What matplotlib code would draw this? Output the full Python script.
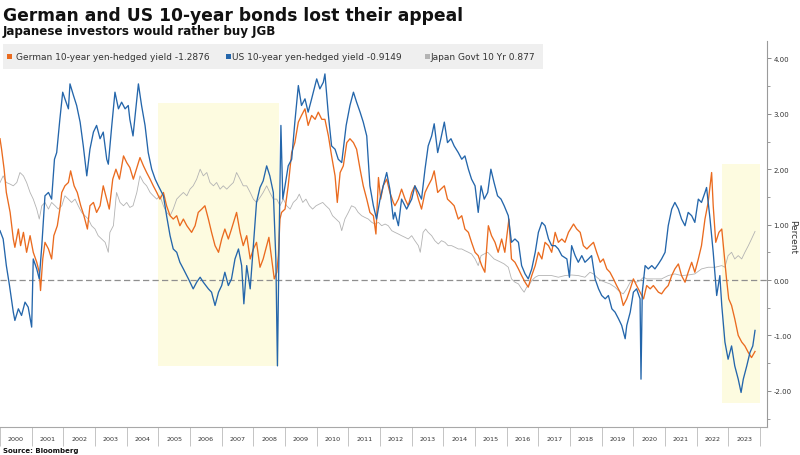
import matplotlib
matplotlib.use("Agg")
import matplotlib.pyplot as plt
from matplotlib.patches import Rectangle
from matplotlib.ticker import FixedLocator, NullFormatter, FixedFormatter

# ---------------- data ----------------
us_dates = [2000.0, 2000.1, 2000.2, 2000.3, 2000.42, 2000.47, 2000.58, 2000.68, 2000.79, 2000.89,
            2001.0, 2001.05, 2001.16, 2001.24, 2001.32, 2001.42, 2001.53, 2001.63, 2001.72, 2001.79,
            2001.89, 2001.98, 2002.05, 2002.16, 2002.21, 2002.32, 2002.42, 2002.53, 2002.63, 2002.74,
            2002.84, 2002.95, 2003.05, 2003.16, 2003.26, 2003.37, 2003.42, 2003.53, 2003.63, 2003.74,
            2003.84, 2003.95, 2004.05, 2004.1, 2004.2, 2004.37, 2004.47, 2004.58, 2004.68, 2004.79,
            2004.9, 2005.0, 2005.16, 2005.26, 2005.37, 2005.47, 2005.58, 2005.68, 2005.79, 2005.95,
            2006.1, 2006.21, 2006.32, 2006.42, 2006.58, 2006.68, 2006.79, 2006.9, 2007.0, 2007.1,
            2007.21, 2007.31, 2007.42, 2007.53, 2007.63, 2007.7, 2007.79, 2007.9, 2008.0, 2008.1,
            2008.21, 2008.31, 2008.42, 2008.52, 2008.63, 2008.71, 2008.76, 2008.82, 2008.87, 2008.93,
            2009.0, 2009.1, 2009.21, 2009.31, 2009.42, 2009.52, 2009.63, 2009.73, 2009.84, 2010.0,
            2010.1, 2010.21, 2010.26, 2010.37, 2010.47, 2010.58, 2010.68, 2010.79, 2010.93, 2011.05,
            2011.16, 2011.26, 2011.37, 2011.47, 2011.58, 2011.68, 2011.79, 2011.89, 2012.0, 2012.1,
            2012.21, 2012.31, 2012.42, 2012.47, 2012.58, 2012.68, 2012.84, 2013.0, 2013.1, 2013.21,
            2013.31, 2013.42, 2013.52, 2013.63, 2013.71, 2013.82, 2013.92, 2014.03, 2014.13, 2014.24,
            2014.34, 2014.47, 2014.58, 2014.68, 2014.79, 2014.89, 2015.0, 2015.1, 2015.19, 2015.29,
            2015.4, 2015.5, 2015.6, 2015.71, 2015.82, 2015.92, 2016.05, 2016.15, 2016.26, 2016.37,
            2016.47, 2016.58, 2016.68, 2016.79, 2016.9, 2017.0, 2017.11, 2017.21, 2017.32, 2017.42,
            2017.53, 2017.63, 2017.74, 2017.9, 2017.98, 2018.05, 2018.16, 2018.26, 2018.37, 2018.47,
            2018.58, 2018.68, 2018.79, 2018.9, 2019.0, 2019.11, 2019.21, 2019.32, 2019.42, 2019.53,
            2019.63, 2019.74, 2019.79, 2019.9, 2020.0, 2020.1, 2020.21, 2020.24, 2020.28, 2020.37,
            2020.47, 2020.58, 2020.68, 2020.79, 2020.89, 2021.0, 2021.1, 2021.21, 2021.31, 2021.42,
            2021.52, 2021.63, 2021.73, 2021.84, 2021.94, 2022.05, 2022.15, 2022.26, 2022.31, 2022.42,
            2022.52, 2022.58, 2022.63, 2022.73, 2022.79, 2022.89, 2022.99, 2023.1, 2023.2, 2023.31,
            2023.4, 2023.47, 2023.58, 2023.68, 2023.77, 2023.84]
us_values = [0.89, 0.74, 0.26, -0.10, -0.58, -0.73, -0.52, -0.64, -0.40, -0.49,
             -0.85, 0.38, 0.20, 0.02, 0.62, 1.52, 1.58, 1.46, 2.18, 2.30,
             2.90, 3.39, 3.27, 3.09, 3.54, 3.33, 3.15, 2.85, 2.42, 1.88,
             2.36, 2.67, 2.79, 2.55, 2.67, 2.18, 2.09, 2.79, 3.39, 3.09,
             3.21, 3.09, 3.15, 2.90, 2.60, 3.54, 3.15, 2.79, 2.30, 2.00,
             1.82, 1.70, 1.52, 1.16, 0.80, 0.56, 0.50, 0.32, 0.20, 0.02,
             -0.16, -0.04, 0.05, -0.04, -0.16, -0.22, -0.46, -0.22, -0.10, 0.14,
             -0.10, 0.02, 0.38, 0.56, 0.26, -0.43, 0.26, -0.16, 0.62, 1.40,
             1.67, 1.79, 2.06, 1.88, 1.58, 0.38, -1.55, 0.98, 2.79, 1.46,
             1.70, 2.06, 2.18, 2.85, 3.51, 3.15, 3.27, 3.03, 3.27, 3.63,
             3.45, 3.57, 3.72, 2.97, 2.42, 2.36, 2.18, 2.12, 2.79, 3.15,
             3.39, 3.21, 3.03, 2.85, 2.60, 1.70, 1.34, 1.10, 1.46, 1.70,
             1.94, 1.64, 1.10, 1.22, 0.98, 1.46, 1.28, 1.46, 1.70, 1.58,
             1.46, 2.00, 2.42, 2.60, 2.82, 2.30, 2.55, 2.85, 2.48, 2.55,
             2.42, 2.30, 2.18, 2.24, 2.00, 1.82, 1.70, 1.22, 1.70, 1.46,
             1.58, 2.00, 1.76, 1.52, 1.46, 1.34, 1.16, 0.68, 0.74, 0.68,
             0.26, 0.11, 0.02, 0.20, 0.50, 0.86, 1.04, 0.98, 0.74, 0.62,
             0.62, 0.56, 0.44, 0.38, 0.05, 0.62, 0.44, 0.32, 0.44, 0.32,
             0.38, 0.44, 0.02, -0.16, -0.28, -0.34, -0.28, -0.52, -0.58, -0.70,
             -0.82, -1.06, -0.82, -0.58, -0.22, -0.16, -0.34, -1.79, -0.22, 0.26,
             0.20, 0.26, 0.20, 0.29, 0.38, 0.50, 0.98, 1.28, 1.40, 1.28,
             1.10, 0.98, 1.22, 1.16, 1.04, 1.46, 1.40, 1.58, 1.67, 1.10,
             0.50, 0.08, -0.28, 0.08, -0.46, -1.12, -1.43, -1.19, -1.55, -1.79,
             -2.03, -1.79, -1.55, -1.31, -1.19, -0.91]

de_dates = [2000.0, 2000.05, 2000.13, 2000.2, 2000.32, 2000.42, 2000.47, 2000.58, 2000.65, 2000.74,
            2000.84, 2000.95, 2001.05, 2001.16, 2001.24, 2001.28, 2001.35, 2001.42, 2001.53, 2001.63,
            2001.7, 2001.81, 2001.89, 2001.95, 2002.05, 2002.16, 2002.23, 2002.34, 2002.44, 2002.55,
            2002.65, 2002.76, 2002.84, 2002.95, 2003.05, 2003.16, 2003.26, 2003.37, 2003.45, 2003.56,
            2003.66, 2003.77, 2003.9, 2004.0, 2004.1, 2004.21, 2004.42, 2004.53, 2004.63, 2004.74,
            2004.84, 2004.95, 2005.05, 2005.16, 2005.26, 2005.37, 2005.47, 2005.58, 2005.68, 2005.79,
            2005.9, 2006.05, 2006.16, 2006.26, 2006.37, 2006.47, 2006.58, 2006.68, 2006.79, 2006.9,
            2007.0, 2007.1, 2007.21, 2007.31, 2007.47, 2007.58, 2007.68, 2007.79, 2007.9, 2008.0,
            2008.1, 2008.21, 2008.31, 2008.42, 2008.49, 2008.58, 2008.66, 2008.74, 2008.79, 2008.84,
            2008.89, 2009.0, 2009.1, 2009.21, 2009.31, 2009.42, 2009.52, 2009.63, 2009.73, 2009.84,
            2009.95, 2010.05, 2010.16, 2010.26, 2010.37, 2010.47, 2010.58, 2010.65, 2010.74, 2010.84,
            2010.95, 2011.05, 2011.16, 2011.26, 2011.37, 2011.47, 2011.58, 2011.68, 2011.79, 2011.87,
            2011.95, 2012.02, 2012.1, 2012.21, 2012.31, 2012.42, 2012.47, 2012.58, 2012.68, 2012.79,
            2012.89, 2013.0, 2013.1, 2013.21, 2013.31, 2013.42, 2013.52, 2013.63, 2013.71, 2013.82,
            2013.92, 2014.03, 2014.13, 2014.24, 2014.34, 2014.47, 2014.58, 2014.68, 2014.79, 2014.89,
            2015.0, 2015.1, 2015.21, 2015.31, 2015.42, 2015.52, 2015.63, 2015.73, 2015.84, 2015.94,
            2016.07, 2016.15, 2016.26, 2016.37, 2016.47, 2016.58, 2016.68, 2016.79, 2016.9, 2017.0,
            2017.11, 2017.21, 2017.32, 2017.42, 2017.53, 2017.63, 2017.74, 2017.84, 2017.95, 2018.11,
            2018.21, 2018.32, 2018.42, 2018.53, 2018.63, 2018.74, 2018.84, 2018.95, 2019.05, 2019.16,
            2019.26, 2019.37, 2019.47, 2019.58, 2019.68, 2019.79, 2019.9, 2020.0, 2020.1, 2020.21,
            2020.32, 2020.42, 2020.53, 2020.63, 2020.79, 2020.89, 2021.0, 2021.1, 2021.21, 2021.31,
            2021.42, 2021.52, 2021.63, 2021.73, 2021.84, 2021.94, 2022.05, 2022.15, 2022.26, 2022.36,
            2022.47, 2022.52, 2022.6, 2022.7, 2022.79, 2022.87, 2022.94, 2023.01, 2023.1, 2023.2,
            2023.31, 2023.42, 2023.52, 2023.63, 2023.73, 2023.84]
de_values = [2.55, 2.36, 2.00, 1.58, 1.22, 0.74, 0.59, 0.92, 0.62, 0.86,
             0.50, 0.80, 0.50, 0.32, 0.14, -0.19, 0.38, 0.68, 0.56, 0.38,
             0.80, 0.98, 1.28, 1.58, 1.70, 1.76, 1.97, 1.70, 1.58, 1.34,
             1.16, 0.92, 1.34, 1.40, 1.22, 1.34, 1.70, 1.46, 1.28, 1.82,
             2.00, 1.82, 2.24, 2.12, 2.03, 1.82, 2.21, 2.06, 1.94, 1.82,
             1.70, 1.58, 1.46, 1.58, 1.34, 1.16, 1.10, 1.16, 0.98, 1.10,
             0.98, 0.86, 0.98, 1.22, 1.28, 1.34, 1.10, 0.86, 0.62, 0.50,
             0.74, 0.92, 0.74, 0.92, 1.22, 0.86, 0.62, 0.80, 0.38, 0.56,
             0.68, 0.23, 0.38, 0.62, 0.77, 0.38, 0.02, 0.14, 0.44, 1.10,
             1.22, 1.28, 1.70, 2.30, 2.48, 2.85, 2.97, 3.09, 2.79, 2.97,
             2.90, 3.03, 2.90, 2.90, 2.60, 2.24, 1.88, 1.40, 1.94, 2.06,
             2.48, 2.55, 2.48, 2.36, 2.00, 1.70, 1.46, 1.22, 1.16, 0.83,
             1.85, 1.46, 1.70, 1.82, 1.58, 1.40, 1.34, 1.46, 1.64, 1.46,
             1.34, 1.58, 1.70, 1.46, 1.28, 1.58, 1.70, 1.82, 1.97, 1.58,
             1.64, 1.70, 1.46, 1.40, 1.34, 1.10, 1.16, 0.92, 0.86, 0.68,
             0.50, 0.44, 0.26, 0.14, 0.98, 0.80, 0.68, 0.50, 0.74, 0.50,
             1.10, 0.38, 0.32, 0.20, 0.08, -0.04, -0.13, 0.08, 0.26, 0.50,
             0.38, 0.68, 0.62, 0.50, 0.86, 0.68, 0.74, 0.68, 0.86, 1.01,
             0.92, 0.86, 0.62, 0.56, 0.62, 0.68, 0.50, 0.32, 0.38, 0.20,
             0.14, 0.02, -0.10, -0.22, -0.46, -0.34, -0.16, 0.02, -0.10, -0.22,
             -0.34, -0.10, -0.16, -0.10, -0.22, -0.25, -0.16, -0.10, 0.08, 0.20,
             0.29, 0.08, -0.04, 0.14, 0.32, 0.14, 0.38, 0.62, 1.10, 1.40,
             1.94, 1.34, 0.68, 0.86, 0.92, 0.44, 0.02, -0.34, -0.46, -0.70,
             -1.00, -1.12, -1.19, -1.31, -1.40, -1.29]

jp_dates = [2000.0, 2000.1, 2000.2, 2000.32, 2000.42, 2000.53, 2000.63, 2000.74, 2000.84, 2000.95,
            2001.05, 2001.16, 2001.24, 2001.32, 2001.42, 2001.53, 2001.63, 2001.74, 2001.84, 2001.95,
            2002.05, 2002.16, 2002.26, 2002.37, 2002.47, 2002.58, 2002.68, 2002.79, 2002.89, 2003.0,
            2003.1, 2003.21, 2003.32, 2003.42, 2003.47, 2003.58, 2003.68, 2003.79, 2003.9, 2004.0,
            2004.1, 2004.2, 2004.32, 2004.42, 2004.53, 2004.63, 2004.74, 2004.84, 2004.95, 2005.05,
            2005.16, 2005.26, 2005.37, 2005.47, 2005.58, 2005.68, 2005.79, 2005.9, 2006.0, 2006.1,
            2006.21, 2006.32, 2006.42, 2006.53, 2006.63, 2006.74, 2006.84, 2006.95, 2007.05, 2007.16,
            2007.26, 2007.37, 2007.47, 2007.58, 2007.68, 2007.79, 2007.9, 2008.0, 2008.1, 2008.21,
            2008.31, 2008.42, 2008.52, 2008.63, 2008.74, 2008.84, 2008.95, 2009.05, 2009.16, 2009.26,
            2009.37, 2009.45, 2009.56, 2009.66, 2009.77, 2009.87, 2009.98, 2010.08, 2010.19, 2010.29,
            2010.4, 2010.5, 2010.61, 2010.72, 2010.79, 2010.89, 2011.0, 2011.1, 2011.21, 2011.31,
            2011.42, 2011.52, 2011.63, 2011.74, 2011.84, 2011.95, 2012.05, 2012.16, 2012.26, 2012.37,
            2012.47, 2012.58, 2012.68, 2012.79, 2012.89, 2013.0, 2013.1, 2013.21, 2013.27, 2013.36,
            2013.44, 2013.52, 2013.63, 2013.73, 2013.84, 2013.94, 2014.05, 2014.15, 2014.26, 2014.37,
            2014.47, 2014.58, 2014.68, 2014.79, 2014.89, 2015.0, 2015.1, 2015.19, 2015.29, 2015.4,
            2015.5, 2015.6, 2015.71, 2015.82, 2015.92, 2016.05, 2016.15, 2016.26, 2016.37, 2016.47,
            2016.55, 2016.63, 2016.72, 2016.79, 2016.9, 2017.0, 2017.21, 2017.42, 2017.63, 2017.84,
            2018.05, 2018.26, 2018.47, 2018.63, 2018.74, 2018.84, 2018.95, 2019.11, 2019.26, 2019.42,
            2019.58, 2019.68, 2019.79, 2019.9, 2020.0, 2020.1, 2020.21, 2020.32, 2020.42, 2020.58,
            2020.79, 2020.89, 2021.1, 2021.31, 2021.52, 2021.73, 2021.94, 2022.15, 2022.36, 2022.58,
            2022.79, 2022.89, 2022.99, 2023.1, 2023.2, 2023.31, 2023.42, 2023.52, 2023.63, 2023.73,
            2023.84]
jp_values = [1.76, 1.88, 1.76, 1.73, 1.70, 1.76, 1.94, 1.88, 1.76, 1.58,
             1.46, 1.28, 1.10, 1.34, 1.40, 1.28, 1.40, 1.34, 1.28, 1.34,
             1.52, 1.46, 1.40, 1.46, 1.34, 1.22, 1.16, 1.10, 0.98, 0.92,
             0.80, 0.74, 0.68, 0.50, 0.86, 0.98, 1.58, 1.40, 1.34, 1.40,
             1.31, 1.34, 1.58, 1.88, 1.76, 1.70, 1.58, 1.52, 1.46, 1.52,
             1.34, 1.22, 1.16, 1.28, 1.46, 1.52, 1.58, 1.52, 1.64, 1.70,
             1.82, 2.00, 1.88, 1.94, 1.76, 1.70, 1.76, 1.64, 1.70, 1.64,
             1.70, 1.76, 1.94, 1.82, 1.70, 1.70, 1.58, 1.46, 1.40, 1.49,
             1.58, 1.70, 1.58, 1.46, 1.46, 1.34, 1.46, 1.34, 1.28, 1.40,
             1.46, 1.55, 1.40, 1.46, 1.34, 1.28, 1.34, 1.37, 1.40, 1.34,
             1.28, 1.16, 1.10, 1.04, 0.89, 1.10, 1.22, 1.34, 1.31, 1.22,
             1.16, 1.13, 1.10, 1.04, 1.01, 1.04, 0.98, 1.01, 0.98, 0.89,
             0.86, 0.83, 0.80, 0.77, 0.74, 0.80, 0.71, 0.62, 0.50, 0.86,
             0.92, 0.86, 0.80, 0.71, 0.65, 0.71, 0.68, 0.62, 0.62, 0.59,
             0.56, 0.56, 0.53, 0.50, 0.47, 0.38, 0.26, 0.44, 0.47, 0.50,
             0.44, 0.38, 0.35, 0.32, 0.29, 0.23, 0.02, -0.04, -0.07, -0.16,
             -0.22, -0.13, -0.08, -0.01, 0.05, 0.08, 0.08, 0.08, 0.05, 0.08,
             0.09, 0.08, 0.05, 0.14, 0.11, 0.05, 0.00, -0.04, -0.07, -0.13,
             -0.22, -0.25, -0.16, -0.04, -0.01, -0.04, -0.01, 0.05, 0.02, 0.02,
             0.02, 0.02, 0.08, 0.11, 0.08, 0.09, 0.11, 0.20, 0.23, 0.23,
             0.26, 0.23, 0.44, 0.50, 0.38, 0.44, 0.38, 0.50, 0.62, 0.74,
             0.877]

series_labels = ["German 10-year yen-hedged yield -1.2876",
                 "US 10-year yen-hedged yield -0.9149",
                 "Japan Govt 10 Yr 0.877"]
year_labels = [str(y) for y in range(2000, 2024)]
y_ticks = [-2, -1, 0, 1, 2, 3, 4]
# highlighted periods: (start, end, low, high)
highlights = [(2004.99, 2008.81, -1.56, 3.20), (2022.79, 2024.0, -2.22, 2.10)]

title = "German and US 10-year bonds lost their appeal"
subtitle = "Japanese investors would rather buy JGB"
source = "Source: Bloomberg"
y_label = "Percent"

# ---------------- styling ----------------
C_DE = "#ea6b1f"
C_US = "#2466ab"
C_JP = "#b3b3b3"
W, H = 800, 456

plt.rcParams['font.family'] = ['DejaVu Sans']
fig = plt.figure(figsize=(W / 100, H / 100), dpi=100)
fig.patch.set_facecolor("white")

ax_left, ax_right, ax_top, ax_bottom = 0, 767, 42, 428
ax = fig.add_axes([ax_left / W, 1 - ax_bottom / H, (ax_right - ax_left) / W, (ax_bottom - ax_top) / H])
ax.set_facecolor("white")

for (x0, x1, y0, y1) in highlights:
    ax.add_patch(Rectangle((x0, y0), x1 - x0, y1 - y0, facecolor="#fdfbe0", edgecolor="none", zorder=0))

ax.axhline(0, color="#8f8f8f", lw=0.9, ls=(0, (5, 2.6)), zorder=1)

ax.plot(jp_dates, jp_values, color=C_JP, lw=0.6, zorder=2)
ax.plot(de_dates, de_values, color=C_DE, lw=0.95, zorder=3)
ax.plot(us_dates, us_values, color=C_US, lw=0.95, zorder=4)

ax.set_xlim(2000.0, 2000 + (ax_right - ax_left) / 31.67)
ax.set_ylim((281 - ax_bottom) / 55.4, (281 - ax_top) / 55.4)

for s in ["top", "left"]:
    ax.spines[s].set_visible(False)
ax.spines["right"].set_color("#9a9a9a")
ax.spines["bottom"].set_color("#a8a8a8")
ax.spines["right"].set_linewidth(0.8)
ax.spines["bottom"].set_linewidth(0.8)

# x axis: year boundaries as long ticks, labels centred within each year
ax.xaxis.set_major_locator(FixedLocator(list(range(2000, 2025))))
ax.xaxis.set_major_formatter(NullFormatter())
ax.xaxis.set_minor_locator(FixedLocator([y + 0.5 for y in range(2000, 2024)]))
ax.xaxis.set_minor_formatter(FixedFormatter(year_labels))
ax.tick_params(axis="x", which="major", length=14, width=0.7, color="#c4c4c4", direction="out")
ax.tick_params(axis="x", which="minor", length=0, labelsize=4.6, labelcolor="#333333", pad=6.3)

# y axis on the right
ax.yaxis.tick_right()
ax.set_yticks(y_ticks)
ax.set_yticklabels(["%.2f" % v for v in y_ticks])
ax.yaxis.set_minor_locator(FixedLocator([v + 0.5 for v in range(-3, 4)]))
ax.tick_params(axis="y", which="major", length=3, width=0.7, color="#8a8a8a", labelsize=5, labelcolor="#333333", pad=1.5)
ax.tick_params(axis="y", which="minor", length=2, width=0.6, color="#8a8a8a")


def fx(x):
    return x / W


def fy(y):
    return 1 - y / H


fig.text(fx(793), fy(237), y_label, rotation=270, fontsize=6.5, color="#333333", ha="center", va="center")

# titles
fig.text(fx(3), fy(21), title, fontsize=12.3, fontweight="bold", color="#111111", va="baseline", ha="left")
fig.text(fx(3), fy(35), subtitle, fontsize=8.6, fontweight="bold", color="#111111", va="baseline", ha="left")

# legend box
fig.add_artist(Rectangle((fx(3), fy(70)), (543 - 3) / W, 25 / H, transform=fig.transFigure,
                         facecolor="#efefef", edgecolor="none", zorder=5))
leg_sq_x = [6.5, 226, 425]
leg_tx_x = [15.5, 232, 430.5]
for sx, tx, lab, col in zip(leg_sq_x, leg_tx_x, series_labels, [C_DE, C_US, C_JP]):
    fig.add_artist(Rectangle((fx(sx), fy(60)), 5 / W, 5 / H, transform=fig.transFigure,
                             facecolor=col, edgecolor="none", zorder=6))
    fig.text(fx(tx), fy(57.5), lab, fontsize=6.5, color="#333333", va="center", ha="left", zorder=7)

# source
fig.text(fx(3), fy(451), source, fontsize=5, fontweight="bold", color="#111111", va="center", ha="left")

fig.savefig("out.png", dpi=100, facecolor="white")
